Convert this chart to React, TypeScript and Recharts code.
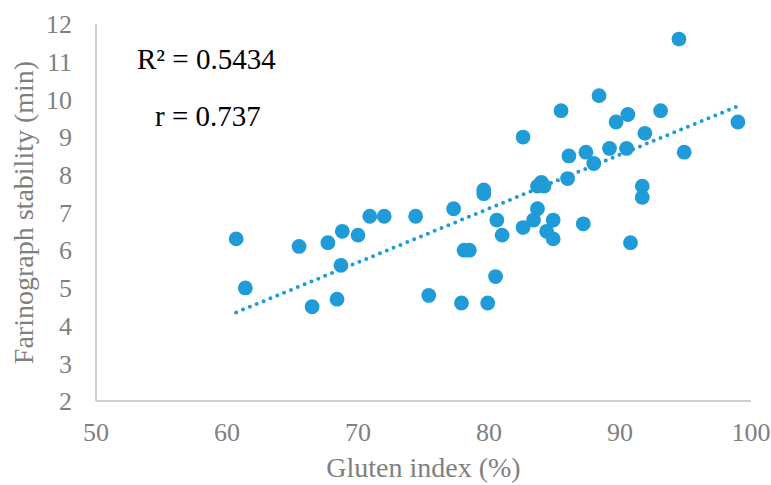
import { Scatter, ScatterChart, XAxis, YAxis, Label } from "recharts";

// gluten index (%) vs farinograph stability (min)
const glutenIndex = [
  60.7, 61.4, 65.5, 66.5, 67.7, 68.8, 70.0, 68.7, 68.4, 70.9, 72.0, 74.4, 77.3, 75.4, 78.1, 78.5, 77.9, 79.9,
  80.5, 80.6, 81.0, 79.6, 79.6, 82.6, 85.5, 88.4, 90.6, 89.7, 93.1, 99.0, 94.5, 91.9, 87.4, 89.2, 90.5, 86.1,
  88.0, 94.9, 86.0, 83.7, 84.0, 84.2, 91.7, 91.7, 83.7, 83.4, 84.9, 82.6, 87.2, 84.4, 84.9, 90.8
];
const stability = [
  6.3, 5.0, 6.1, 4.5, 6.2, 6.5, 6.4, 5.6, 4.7, 6.9, 6.9, 6.9, 7.1, 4.8, 6.0, 6.0, 4.6, 4.6,
  5.3, 6.8, 6.4, 7.6, 7.5, 9.0, 9.7, 10.1, 9.6, 9.4, 9.7, 9.4, 11.6, 9.1, 8.6, 8.7, 8.7, 8.5,
  8.3, 8.6, 7.9, 7.7, 7.8, 7.7, 7.7, 7.4, 7.1, 6.8, 6.8, 6.6, 6.7, 6.5, 6.3, 6.2
];

// linear trendline end points as drawn
const trendX = [60.7, 99.0];
const trendY = [4.35, 9.82];

const xTicks = [50, 60, 70, 80, 90, 100];
const yTicks = [2, 3, 4, 5, 6, 7, 8, 9, 10, 11, 12];

const points = glutenIndex.map((x, i) => ({ x, y: stability[i] }));
const trend = trendX.map((x, i) => ({ x, y: trendY[i] }));

const BLUE = "#1f9bd8";
const GREY = "#7f7f7f";
const FONT = "'Liberation Serif', 'Times New Roman', serif";

export default function App() {
  return (
    <div style={{ position: "relative", width: 771, height: 485, fontFamily: FONT }}>
      <style>{"body{margin:0}"}</style>
      <ScatterChart width={771} height={485} margin={{ top: 24, right: 20, bottom: 0, left: 0 }}>
        <XAxis
          type="number"
          dataKey="x"
          domain={[50, 100]}
          ticks={xTicks}
          height={84}
          tickLine={false}
          tickSize={6}
          tickMargin={16}
          stroke="#bfbfbf"
          strokeWidth={1.5}
          tick={{ fill: GREY, fontSize: 26, fontFamily: FONT }}
        >
          <Label
            content={({ viewBox }: any) => (
              <text
                x={viewBox.x + viewBox.width / 2}
                y={viewBox.y + 76}
                textAnchor="middle"
                fill={GREY}
                fontSize={28}
                fontFamily={FONT}
              >
                Gluten index (%)
              </text>
            )}
          />
        </XAxis>
        <YAxis
          type="number"
          dataKey="y"
          domain={[2, 12]}
          ticks={yTicks}
          width={96}
          tickLine={false}
          tickSize={6}
          tickMargin={18}
          stroke="#bfbfbf"
          strokeWidth={1.5}
          tick={{ fill: GREY, fontSize: 26, fontFamily: FONT }}
        >
          <Label
            content={({ viewBox }: any) => (
              <text
                x={0}
                y={0}
                transform={`translate(${viewBox.x + 33},${viewBox.y + viewBox.height / 2}) rotate(-90)`}
                textAnchor="middle"
                fill={GREY}
                fontSize={28}
                fontFamily={FONT}
              >
                Farinograph stability (min)
              </text>
            )}
          />
        </YAxis>
        <Scatter
          data={trend}
          isAnimationActive={false}
          fill={BLUE}
          shape={() => <g />}
          line={{ stroke: BLUE, strokeWidth: 4, strokeDasharray: "0 7.4", strokeLinecap: "round" }}
        />
        <Scatter
          data={points}
          isAnimationActive={false}
          fill={BLUE}
          shape={(p: any) => <circle cx={p.cx} cy={p.cy} r={7.4} fill={BLUE} />}
        />
      </ScatterChart>
      <svg width={771} height={485} style={{ position: "absolute", left: 0, top: 0, pointerEvents: "none" }}>
        <text x={137} y={69} fontSize={29} fontFamily={FONT} fill="#000">
          R² = 0.5434
        </text>
        <text x={155} y={126} fontSize={29} fontFamily={FONT} fill="#000">
          r = 0.737
        </text>
      </svg>
    </div>
  );
}
